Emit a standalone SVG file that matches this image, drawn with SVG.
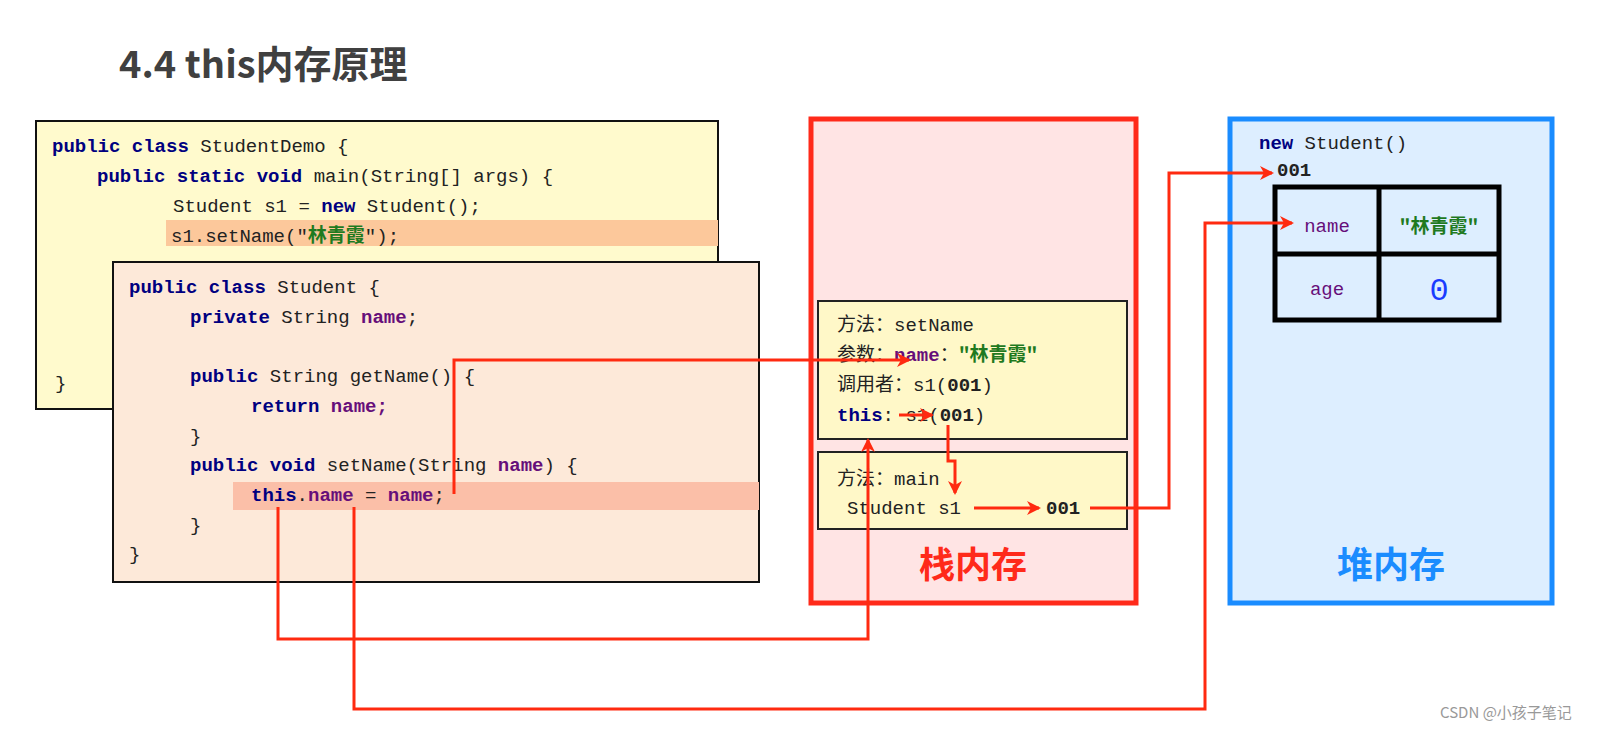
<svg xmlns="http://www.w3.org/2000/svg" width="1624" height="732" viewBox="0 0 1624 732">
<style>
.c{font-family:"Liberation Mono","Noto Sans CJK SC",monospace;font-size:19px;fill:#222}
.k{font-weight:bold;fill:#000080}
.v{fill:#660e7a;font-weight:bold}
.p{fill:#660e7a}
.s{fill:#1f7a1f;font-weight:bold;font-family:"Noto Sans CJK SC",monospace}
.cj{font-family:"Noto Sans CJK SC",sans-serif}
.w{stroke:#ff2a10;stroke-width:3;fill:none}
.fr{fill:#fff8c8;stroke:#222;stroke-width:2}
</style>
<defs><marker id="a" markerWidth="14" markerHeight="14" refX="12" refY="7" orient="auto" markerUnits="userSpaceOnUse"><path d="M0,0 L14,7 L0,14 L4,7 Z" fill="#ff2a10"/></marker></defs>
<rect width="1624" height="732" fill="#fff"/>
<text x="119" y="78" font-family="'Noto Sans CJK SC',sans-serif" font-size="38" font-weight="bold" fill="#404040">4.4 this内存原理</text>
<g id="demo">
<rect x="36" y="121" width="682" height="288" fill="#fffacd" stroke="#111" stroke-width="2"/>
<rect x="166" y="220" width="552" height="26" fill="#fcc89b"/>
<text class="c" x="52" y="152"><tspan class="k">public class</tspan> StudentDemo {</text>
<text class="c" x="97" y="182"><tspan class="k">public static void</tspan> main(String[] args) {</text>
<text class="c" x="173" y="212">Student s1 = <tspan class="k">new</tspan> Student();</text>
<text class="c" x="171" y="242">s1.setName("<tspan class="s">林青霞</tspan>");</text>
<text class="c" x="55" y="389">}</text>
</g>
<g id="student">
<rect x="113" y="262" width="646" height="320" fill="#fde9d9" stroke="#111" stroke-width="2"/>
<rect x="233" y="482" width="526" height="28" fill="#fbbfa8"/>
<text class="c" x="129" y="293"><tspan class="k">public class</tspan> Student {</text>
<text class="c" x="190" y="323"><tspan class="k">private</tspan> String <tspan class="v">name</tspan>;</text>
<text class="c" x="190" y="382"><tspan class="k">public</tspan> String getName() {</text>
<text class="c" x="251" y="412"><tspan class="k">return</tspan> <tspan class="v">name;</tspan></text>
<text class="c" x="190" y="442">}</text>
<text class="c" x="190" y="471"><tspan class="k">public void</tspan> setName(String <tspan class="v">name</tspan>) {</text>
<text class="c" x="251" y="501"><tspan class="k">this</tspan>.<tspan class="v">name</tspan> = <tspan class="v">name</tspan>;</text>
<text class="c" x="190" y="531">}</text>
<text class="c" x="129" y="560">}</text>
</g>
<g id="stack">
<rect x="811" y="119" width="325" height="484" fill="#ffe4e4" stroke="#ff2a1a" stroke-width="5"/>
<rect class="fr" x="818" y="301" width="309" height="138"/>
<text class="c" x="837" y="331"><tspan class="cj">方法：</tspan>setName</text>
<text class="c" x="837" y="361"><tspan class="cj">参数：</tspan><tspan class="v">name</tspan>：<tspan class="s">"林青霞"</tspan></text>
<text class="c" x="837" y="391"><tspan class="cj">调用者：</tspan>s1(<tspan font-weight="bold">001</tspan>)</text>
<text class="c" x="837" y="421"><tspan class="k">this</tspan>: s1(<tspan font-weight="bold">001</tspan>)</text>
<rect class="fr" x="818" y="452" width="309" height="77"/>
<text class="c" x="837" y="485"><tspan class="cj">方法：</tspan>main</text>
<text class="c" x="847" y="514">Student s1</text>
<text class="c" x="1046" y="514" font-weight="bold">001</text>
<text x="973" y="578" text-anchor="middle" font-family="'Noto Sans CJK SC',sans-serif" font-size="36" font-weight="bold" fill="#ff2a1a">栈内存</text>
</g>
<g id="heap">
<rect x="1230" y="119" width="322" height="484" fill="#ddeeff" stroke="#1a8cff" stroke-width="5"/>
<text class="c" x="1259" y="149"><tspan class="k">new</tspan> Student()</text>
<text class="c" x="1277" y="176" font-weight="bold">001</text>
<rect x="1275" y="187" width="224" height="133" fill="none" stroke="#000" stroke-width="5"/>
<line x1="1379" y1="187" x2="1379" y2="320" stroke="#000" stroke-width="5"/>
<line x1="1275" y1="254" x2="1499" y2="254" stroke="#000" stroke-width="5"/>
<text class="c p" x="1327" y="232" text-anchor="middle" font-size="21">name</text>
<text class="c s" x="1439" y="233" text-anchor="middle" font-size="23">"林青霞"</text>
<text class="c p" x="1327" y="295" text-anchor="middle" font-size="21">age</text>
<text x="1439" y="300" text-anchor="middle" font-family="'Liberation Mono',monospace" font-size="32" fill="#1a3cff">0</text>
<text x="1391" y="578" text-anchor="middle" font-family="'Noto Sans CJK SC',sans-serif" font-size="36" font-weight="bold" fill="#1a8cff">堆内存</text>
</g>
<g id="connectors">
<polyline class="w" points="454,494 454,360 909,360" marker-end="url(#a)"/>
<polyline class="w" points="278,507 278,639 868,639 868,440" marker-end="url(#a)"/>
<polyline class="w" points="354,507 354,709 1205,709 1205,223 1292,223" marker-end="url(#a)"/>
<polyline class="w" points="899,415 932,415" marker-end="url(#a)"/>
<polyline class="w" points="948,425 948,461 955,461 955,493" marker-end="url(#a)"/>
<polyline class="w" points="974,508 1039,508" marker-end="url(#a)"/>
<polyline class="w" points="1090,508 1169,508 1169,173 1272,173" marker-end="url(#a)"/>
</g>
<text x="1440" y="718" font-family="'Noto Sans CJK SC',sans-serif" font-size="15" fill="#999">CSDN @小孩子笔记</text>
</svg>
